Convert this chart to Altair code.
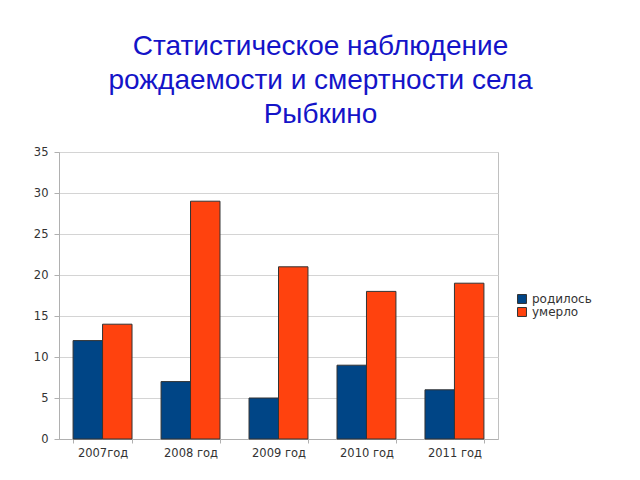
import altair as alt
import pandas as pd

years = ["2007год", "2008 год", "2009 год", "2010 год", "2011 год"]
series = ["родилось", "умерло"]
born = [12, 7, 5, 9, 6]
died = [14, 29, 21, 18, 19]
colors = ["#004586", "#ff420e"]

rows = []
for y, b, d in zip(years, born, died):
    rows.append({"year": y, "series": series[0], "value": b})
    rows.append({"year": y, "series": series[1], "value": d})
df = pd.DataFrame(rows)

chart = alt.Chart(df).mark_bar(stroke="#333333", strokeWidth=1).encode(
    x=alt.X("year:N", sort=years, title=None,
            scale=alt.Scale(paddingInner=0.33, paddingOuter=0.16),
            axis=alt.Axis(labelAngle=0, labelFont="DejaVu Sans", labelFontSize=11.5,
                          labelColor="#333333", labelPadding=4, domainColor="#b0b0b0",
                          tickColor="#b0b0b0", tickSize=4, tickBand="extent", grid=False)),
    xOffset=alt.XOffset("series:N", sort=series),
    y=alt.Y("value:Q", title=None,
            scale=alt.Scale(domain=[0, 35]),
            axis=alt.Axis(values=[0, 5, 10, 15, 20, 25, 30, 35], labelFont="DejaVu Sans",
                          labelFontSize=11.5, labelColor="#333333", labelPadding=6,
                          domainColor="#b0b0b0", tickColor="#b0b0b0", tickSize=5,
                          gridColor="#d4d4d4")),
    color=alt.Color("series:N", sort=series,
                    scale=alt.Scale(domain=series, range=colors),
                    legend=alt.Legend(title=None, orient="none", legendX=457, legendY=141,
                                      symbolType="square", symbolSize=80,
                                      symbolStrokeColor="#333333", symbolStrokeWidth=1,
                                      labelFont="DejaVu Sans", labelFontSize=12,
                                      labelColor="#333333", rowPadding=-3, labelOffset=4)),
).properties(
    width=439,
    height=287,
    title=alt.Title(
        ["Статистическое наблюдение", "рождаемости и смертности села", "Рыбкино"],
        font="Liberation Sans", fontSize=28, fontWeight="normal", color="#1414c8",
        lineHeight=34, anchor="middle", dx=42, offset=17,
    ),
    autosize=alt.AutoSizeParams(type="none"),
    padding={"left": 59, "top": 152, "right": 142, "bottom": 41},
    background="white",
).configure_view(stroke="#c0c0c0", strokeWidth=1)

chart.save("out.html", embed_options={"renderer": "svg", "actions": False})
